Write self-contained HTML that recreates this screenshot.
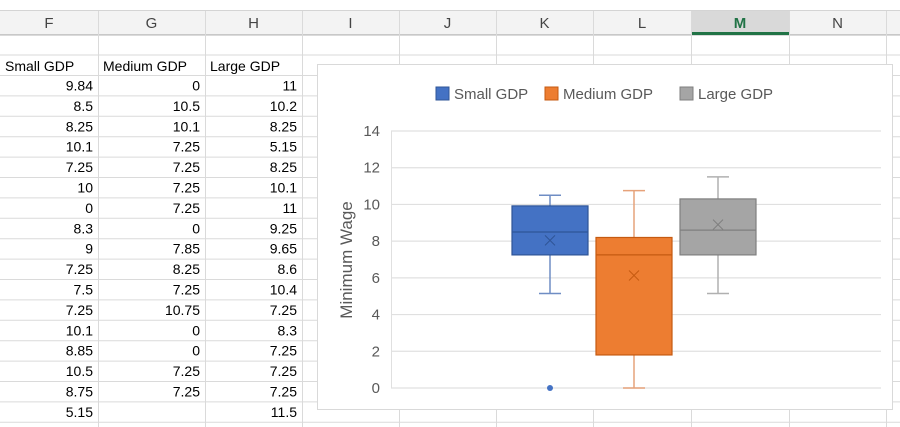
<!DOCTYPE html>
<html><head><meta charset="utf-8"><style>
body{margin:0;width:900px;height:427px;overflow:hidden;background:#fff;font-family:"Liberation Sans",sans-serif;position:relative}
.c{position:absolute;font-size:14px;color:#000;line-height:20px}
</style></head><body>
<svg id="s" width="900" height="427" style="position:absolute;left:0;top:0"></svg>
<script>
const cats=["Small GDP","Medium GDP","Large GDP"];
const colF=["9.84","8.5","8.25","10.1","7.25","10","0","8.3","9","7.25","7.5","7.25","10.1","8.85","10.5","8.75","5.15"];
const colG=["0","10.5","10.1","7.25","7.25","7.25","7.25","0","7.85","8.25","7.25","10.75","0","0","7.25","7.25",""];
const colH=["11","10.2","8.25","5.15","8.25","10.1","11","9.25","9.65","8.6","10.4","7.25","8.3","7.25","7.25","7.25","11.5"];
const q1=[7.25,1.8,7.25];
const q3=[9.92,8.2,10.3];
const med=[8.5,7.25,8.6];
const mean=[8.04,6.13,8.9];
const wLo=[5.15,0,5.15];
const wHi=[10.5,10.75,11.5];
const outliers=[[0],[],[]];
const yTicks=[0,2,4,6,8,10,12,14];
const colLetters=["F","G","H","I","J","K","L","M","N"];
const fills=["#4472c4","#ed7d31","#a5a5a5"];
const strokes=["#2f5597","#c55a11","#7f7f7f"];
const wcol=["#6f8dc4","#e6a27a","#b0b0b0"];

const s=document.getElementById('s');const NS="http://www.w3.org/2000/svg";
function el(t,a,p){const e=document.createElementNS(NS,t);for(const k in a)e.setAttribute(k,a[k]);(p||s).appendChild(e);return e;}
// header
const hdr=el('rect',{x:0,y:11,width:900,height:24,fill:'#f3f3f3'});

el('line',{x1:0,y1:10.5,x2:900,y2:10.5,stroke:'#d4d4d4'});
el('line',{x1:0,y1:34.5,x2:900,y2:34.5,stroke:'#c8c8c8'});
const colX=[0,98,205,302,399,496,593,691,789,886];
el('rect',{x:691,y:11,width:98,height:23,fill:'#d9d9d9'});
el('rect',{x:691,y:32,width:98,height:3,fill:'#217346'});
for(let i=0;i<9;i++){
  const t=el('text',{x:(colX[i]+colX[i+1])/2,y:28,'text-anchor':'middle','font-size':15,fill:i==7?'#217346':'#444','font-weight':i==7?'bold':'normal','font-family':'Liberation Sans, sans-serif'});
  t.textContent=colLetters[i];
  
}
for(let i=1;i<10;i++){el('line',{x1:colX[i]+0.5,y1:11,x2:colX[i]+0.5,y2:427,stroke:'#dadada'});}
// rows
const rowY=[35,54.5,75];for(let i=1;i<=17;i++)rowY.push(75+i*20.4);
rowY.forEach(y=>el('line',{x1:0,y1:y+0.5,x2:900,y2:y+0.5,stroke:'#dadada'}));
cats.forEach((c,i)=>{const t=el('text',{x:colX[i]+5,y:71,'font-size':14,fill:'#000','font-family':'Liberation Sans, sans-serif'});t.textContent=c;
 });
[colF,colG,colH].forEach((col,ci)=>col.forEach((v,ri)=>{if(v==="")return;const t=el('text',{x:colX[ci+1]-5,y:75+ri*20.4+15.5,'text-anchor':'end','font-size':14,fill:'#000','font-family':'Liberation Sans, sans-serif'});t.textContent=v;
 }));
// chart
const g=el('g',{});
el('rect',{x:317.5,y:64.5,width:575,height:345,fill:'#fff',stroke:'#d9d9d9'},g);
const y0=388,ppu=(388-131)/14;const Y=v=>y0-v*ppu;
const cx=[550,634,718],bw=76;
yTicks.forEach(v=>{el('line',{x1:391,y1:Y(v),x2:881,y2:Y(v),stroke:'#e0e0e0','stroke-width':1.2},g);
 const t=el('text',{x:380,y:Y(v)+5,'text-anchor':'end','font-size':15,fill:'#595959','font-family':'Liberation Sans, sans-serif'},g);t.textContent=v;
 });
el('line',{x1:391.5,y1:Y(14),x2:391.5,y2:Y(0),stroke:'#e0e0e0'},g);
const yt=el('text',{x:0,y:0,transform:'translate(352,260) rotate(-90)','text-anchor':'middle','font-size':17,fill:'#595959','font-family':'Liberation Sans, sans-serif'},g);yt.textContent='Minimum Wage';

cats.forEach((c,i)=>{
 const gg=el('g',{},g);
 el('line',{x1:cx[i],y1:Y(wHi[i]),x2:cx[i],y2:Y(q3[i]),stroke:wcol[i],'stroke-width':1.5},gg);
 el('line',{x1:cx[i],y1:Y(q1[i]),x2:cx[i],y2:Y(wLo[i]),stroke:wcol[i],'stroke-width':1.5},gg);
 el('line',{x1:cx[i]-11,y1:Y(wHi[i]),x2:cx[i]+11,y2:Y(wHi[i]),stroke:wcol[i],'stroke-width':1.5},gg);
 el('line',{x1:cx[i]-11,y1:Y(wLo[i]),x2:cx[i]+11,y2:Y(wLo[i]),stroke:wcol[i],'stroke-width':1.5},gg);
 el('rect',{x:cx[i]-bw/2,y:Y(q3[i]),width:bw,height:Y(q1[i])-Y(q3[i]),fill:fills[i],stroke:strokes[i],'stroke-width':1.2},gg);
 el('line',{x1:cx[i]-bw/2,y1:Y(med[i]),x2:cx[i]+bw/2,y2:Y(med[i]),stroke:strokes[i],'stroke-width':1.2},gg);
 const m=Y(mean[i]);el('path',{d:`M${cx[i]-5} ${m-5}L${cx[i]+5} ${m+5}M${cx[i]+5} ${m-5}L${cx[i]-5} ${m+5}`,stroke:strokes[i],'stroke-width':1},gg);
 outliers[i].forEach(o=>el('circle',{cx:cx[i],cy:Y(o),r:3,fill:fills[i]},gg));
});
const lx=[436,545,680];
cats.forEach((c,i)=>{
 const lg=el('g',{},g);
 el('rect',{x:lx[i],y:87,width:13,height:13,fill:fills[i],stroke:strokes[i]},lg);
 const t=el('text',{x:lx[i]+18,y:99,'font-size':15,fill:'#595959','font-family':'Liberation Sans, sans-serif'},lg);t.textContent=c;
});
</script>
</body></html>
